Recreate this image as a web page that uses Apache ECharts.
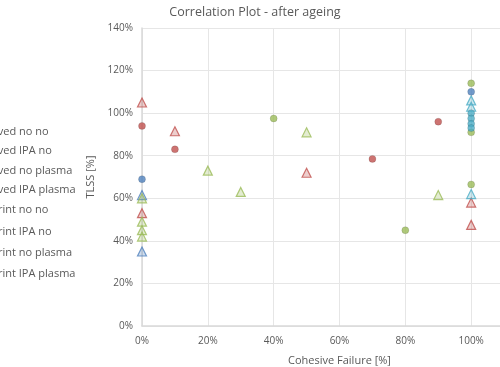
<!DOCTYPE html>
<html><head><meta charset="utf-8">
<script src="https://cdn.jsdelivr.net/npm/echarts@6/dist/echarts.min.js"></script>
<style>html,body{margin:0;padding:0;background:#fff}#c{width:500px;height:367px}</style>
</head><body><div id="c"></div>
<script>
const chartTitle = 'Correlation Plot - after ageing';
const xName = 'Cohesive Failure [%]';
const yName = 'TLSS [%]';
const seriesNames = ['Grooved no no','Grooved IPA no','Grooved no plasma','Grooved IPA plasma',
                     'Imprint no no','Imprint IPA no','Imprint no plasma','Imprint IPA plasma'];
const colors = ['#4F81BD','#C0504D','#9BBB59','#4BACC6','#4F81BD','#C0504D','#9BBB59','#4BACC6'];
const groovedNoNo = [[0,69],[100,110]];
const groovedIpaNo = [[0,94],[10,83],[70,78.5],[90,96]];
const groovedNoPlasma = [[40,97.5],[80,45],[100,114],[100,66.5],[100,91]];
const groovedIpaPlasma = [[100,100],[100,97.5],[100,95],[100,93]];
const imprintNoNo = [[0,61.5],[0,35]];
const imprintIpaNo = [[0,105],[10,91.5],[50,72],[0,53],[100,58],[100,47.5]];
const imprintNoPlasma = [[20,73],[30,63],[50,91],[90,61.5],[0,60],[0,49],[0,45],[0,42]];
const imprintIpaPlasma = [[100,106],[100,103],[100,62]];
const allData = [groovedNoNo,groovedIpaNo,groovedNoPlasma,groovedIpaPlasma,imprintNoNo,imprintIpaNo,imprintNoPlasma,imprintIpaPlasma];

function lighten(hex, a){
  const r=parseInt(hex.slice(1,3),16),g=parseInt(hex.slice(3,5),16),b=parseInt(hex.slice(5,7),16);
  return `rgba(${r},${g},${b},${a})`;
}
const font = '"Open Sans", sans-serif';
const series = seriesNames.map((n,i)=>{
  const tri = i>=4;
  return {
    name:n, type:'scatter', data:allData[i],
    symbol: tri ? 'triangle' : 'circle',
    symbolSize: tri ? 9 : 7,
    itemStyle: tri ? {color: lighten(colors[i],0.35), borderColor: colors[i], borderWidth:1.2}
                   : {color: colors[i], borderColor: lighten('#000000',0.25), borderWidth:0.6},
    z: tri ? 3 : 4
  };
});
const chart = echarts.init(document.getElementById('c'));
const legendText = {color:'#595959', fontSize:11, fontFamily:font, lineHeight:12};
chart.setOption({
  animation:false,
  backgroundColor:'#fff',
  color: colors,
  title:{text:chartTitle, left:250, top:1, textAlign:'center',
    textStyle:{color:'#595959', fontSize:12.5, fontWeight:'normal', fontFamily:font}},
  legend:[
    {data:seriesNames.slice(0,4), orient:'vertical', left:-49, top:121, itemWidth:10, itemHeight:12, itemGap:7.3, textStyle:legendText},
    {data:seriesNames.slice(4), orient:'vertical', left:-43, top:198.2, itemWidth:10, itemHeight:12, itemGap:7.3, textStyle:legendText}
  ],
  grid:{left:142, width:395, top:28, height:298, containLabel:false, outerBoundsMode:'none'},
  xAxis:{type:'value', min:0, max:120, interval:20, name:xName, nameLocation:'middle', nameGap:29,
    nameTextStyle:{color:'#595959', fontSize:11, fontFamily:font},
    axisLabel:{formatter:'{value}%', color:'#595959', fontSize:10, fontFamily:font, margin:10},
    axisLine:{show:true, lineStyle:{color:'#D9D9D9', width:1.5}}, axisTick:{show:false},
    splitLine:{show:true, lineStyle:{color:'#E6E6E6'}}},
  yAxis:{type:'value', min:0, max:140, interval:20, name:yName, nameLocation:'middle', nameGap:31, nameRotate:90,
    nameTextStyle:{color:'#595959', fontSize:11, fontFamily:font},
    axisLabel:{formatter:'{value}%', color:'#595959', fontSize:10, fontFamily:font, margin:9},
    axisLine:{show:true, lineStyle:{color:'#D9D9D9', width:1.5}}, axisTick:{show:false},
    splitLine:{show:true, lineStyle:{color:'#E6E6E6'}}},
  series: series
});
</script></body></html>
